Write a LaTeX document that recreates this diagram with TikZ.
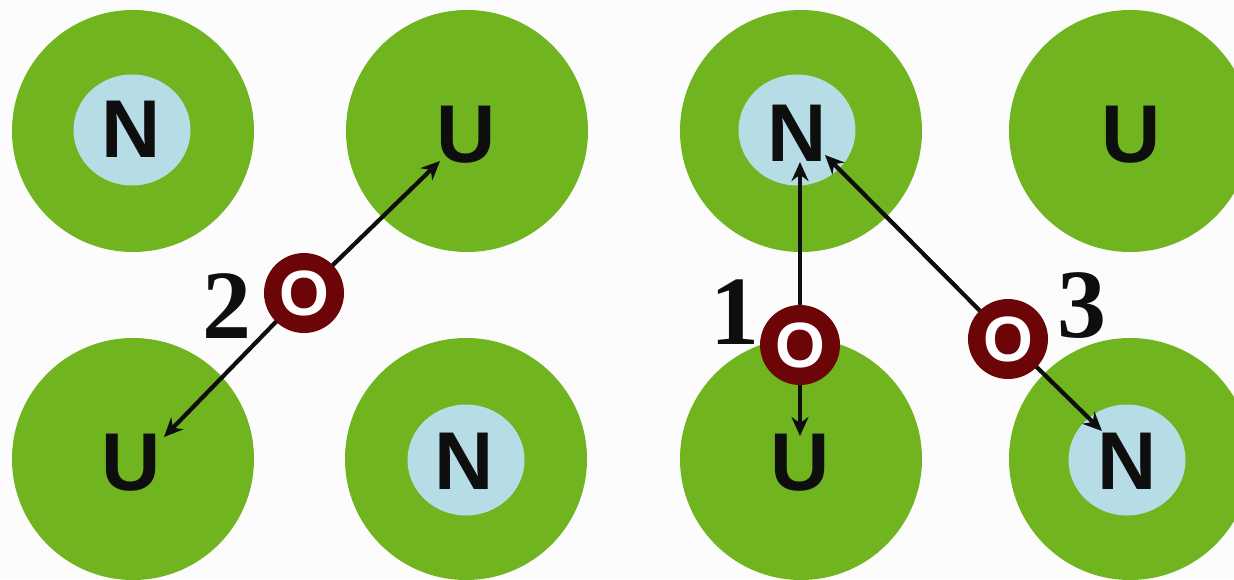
\documentclass[tikz,border=0pt]{standalone}
\usepackage{fontspec}
\setmainfont{Liberation Serif}
\newfontfamily\lettersans{Liberation Sans}
\usetikzlibrary{arrows.meta,shapes.geometric}

\definecolor{grain}{HTML}{70B41F}
\definecolor{core}{HTML}{B6DCE5}
\definecolor{oxy}{HTML}{6B0508}
\definecolor{ink}{HTML}{0E0E0E}
\definecolor{paper}{HTML}{FCFCFC}

\tikzset{
  grainball/.style={circle, fill=grain, minimum size=242pt, inner sep=0pt},
  nucleus/.style={ellipse, fill=core, minimum width=117pt, minimum height=111pt, inner sep=0pt},
  site/.style={text=ink, inner sep=0pt, font=\lettersans\bfseries\fontsize{82}{82}\selectfont},
  oatom/.style={circle, fill=oxy, minimum size=80pt, inner sep=0pt, text=white,
                font=\lettersans\bfseries\fontsize{64}{64}\selectfont},
  stepnum/.style={text=ink, inner sep=0pt, font=\bfseries\fontsize{98}{98}\selectfont},
  hop/.style={draw=ink, line width=4.2pt, -{Stealth[length=19pt, width=17pt]}},
}

\begin{document}
\begin{tikzpicture}[x=1pt, y=-1pt]
  % page
  \fill[paper] (0,0) rectangle (1234,579);
  \useasboundingbox (0,0) rectangle (1234,579);

  % grains
  \node[grainball] (g1) at (133,131) {};
  \node[grainball] (g2) at (467,131) {};
  \node[grainball] (g3) at (801,131) {};
  \node[grainball] (g4) at (1130,131) {};
  \node[grainball] (g5) at (133,459) {};
  \node[grainball] (g6) at (466,459) {};
  \node[grainball] (g7) at (801,459) {};
  \node[grainball] (g8) at (1130,459) {};

  % nuclei
  \node[nucleus] (c1) at (132,130) {};
  \node[nucleus] (c3) at (797,130) {};
  \node[nucleus] (c6) at (466,460) {};
  \node[nucleus] (c8) at (1127,460) {};

  % site letters
  \node[site] (s1) at (131,129) {N};
  \node[site] (s2) at (466,135) {U};
  \node[site] (s3) at (797,133) {N};
  \node[site] (s4) at (1131,135) {U};
  \node[site] (s5) at (131,463) {U};
  \node[site] (s6) at (464,461) {N};
  \node[site] (s7) at (800,463) {U};
  \node[site] (s8) at (1127,461) {N};

  % oxygen positions
  \coordinate (p2) at (304,293);
  \coordinate (p1) at (800,345);
  \coordinate (p3) at (1008,339);

  % arrow tips
  \coordinate (t2a) at (440,161);
  \coordinate (t2b) at (164,437);
  \coordinate (t1a) at (800,162);
  \coordinate (t1b) at (800,436);
  \coordinate (t3a) at (825,155);
  \coordinate (t3b) at (1102,431);

  % jumps
  \draw[hop] (p2) -- (t2a);
  \draw[hop] (p2) -- (t2b);
  \draw[hop] (p1) -- (t1a);
  \draw[hop] (p1) -- (t1b);
  \draw[hop] (p3) -- (t3a);
  \draw[hop] (p3) -- (t3b);

  % oxygen atoms
  \node[oatom] (o2) at (p2) {O};
  \node[oatom] (o1) at (p1) {O};
  \node[oatom] (o3) at (p3) {O};

  % step numbers
  \node[stepnum] (n2) at (227,306) {2};
  \node[stepnum] (n1) at (735,312) {1};
  \node[stepnum] (n3) at (1082,306) {3};
\end{tikzpicture}
\end{document}
